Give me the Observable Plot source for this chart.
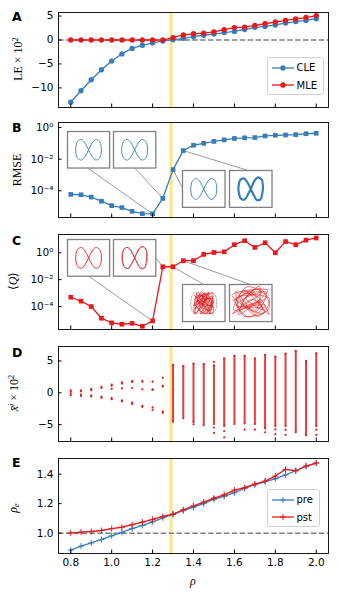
<!DOCTYPE html>
<html><head><meta charset="utf-8">
<script src="https://cdn.jsdelivr.net/npm/d3@7"></script>
<script src="https://cdn.jsdelivr.net/npm/@observablehq/plot@0.6"></script>
<style>
body{margin:0;background:#fff;}
#fig{position:relative;width:339px;height:603px;font-family:"DejaVu Sans",sans-serif;color:#000;overflow:hidden;}
.plabel{position:absolute;font-weight:bold;font-size:12.5px;line-height:12.5px;}
.ylab{position:absolute;font-family:"Liberation Serif",serif;font-size:12px;line-height:12px;transform:translate(-50%,-50%) rotate(-90deg);white-space:nowrap;}
.ylab sup{font-size:0.7em;vertical-align:0.45em;line-height:0;}
.ylab sub{font-size:0.7em;vertical-align:-0.25em;line-height:0;}
.legend{position:absolute;box-sizing:border-box;border:1px solid #d0d0d0;border-radius:3px;background:rgba(255,255,255,0.85);font-size:10px;}
</style></head>
<body><div id="fig"></div>
<script>
// ---------------- data ----------------
const rho = [0.80,0.85,0.90,0.95,1.00,1.05,1.10,1.15,1.20,1.25,1.30,1.35,1.40,1.45,1.50,1.55,1.60,1.65,1.70,1.75,1.80,1.85,1.90,1.95,2.00];
const cle = [-13.0,-10.6,-8.3,-6.2,-4.4,-2.9,-1.75,-1.1,-0.6,-0.2,0.05,0.35,0.7,1.0,1.25,1.55,1.8,2.2,2.65,2.85,3.15,3.55,3.85,4.1,4.45];
const mle = [0,0,0,0,0,0,0,0,0,0,0.5,1.05,1.3,1.45,1.7,2.15,2.6,2.7,3.05,3.4,3.75,4.1,4.4,4.7,5.1];
const rmse = [5.9e-5,5.6e-5,4.0e-5,2.2e-5,1.15e-5,8.7e-6,5.0e-6,3.6e-6,3.5e-6,3.3e-5,2.2e-3,3.5e-2,7.6e-2,0.10,0.133,0.166,0.204,0.224,0.234,0.295,0.324,0.339,0.355,0.407,0.437];
const qmean = [4.9e-4,2.5e-4,1.0e-4,1.35e-5,6.0e-6,4.8e-6,5.6e-6,3.4e-6,8.5e-6,0.091,0.091,0.257,0.257,0.76,1.05,1.17,4.0,7.9,2.5,5.6,1.0,6.8,4.0,8.7,12.6];
const pre = [0.885,0.912,0.934,0.957,0.982,1.005,1.03,1.052,1.077,1.104,1.127,1.152,1.176,1.2,1.23,1.249,1.274,1.303,1.328,1.35,1.368,1.395,1.423,1.452,1.475];
const pst = [1.002,1.007,1.011,1.018,1.03,1.04,1.057,1.075,1.093,1.113,1.129,1.158,1.185,1.21,1.238,1.26,1.292,1.308,1.333,1.353,1.387,1.432,1.423,1.455,1.475];
// panel D: discrete states (rho < 1.3)
const discRho = [0.80,0.85,0.90,0.95,1.00,1.05,1.10,1.15,1.20,1.25];
const discVals = [[0.4,0.15,-0.15,-0.4],[0.4,0.2,-0.3,-0.5],[0.6,0.4,-0.4,-0.6],[0.95,0.75,-0.6,-0.8],[1.3,1.1,0.6,-0.85,-1.0],[1.65,1.45,0.7,-1.2,-1.35],[1.85,1.7,0.75,-1.55,-1.75],[1.85,1.75,0.55,-2.05,-2.2],[1.75,0.55,0.45,-2.3,-2.7],[2.35,1.1,1.0,-2.95,-3.15]];
// panel D: dense columns (rho >= 1.3)
const stripRho = [1.30,1.35,1.40,1.45,1.50,1.55,1.60,1.65,1.70,1.75,1.80,1.85,1.90,1.95,2.00];
const stripHi = [4.4,4.2,4.6,4.5,4.3,5.4,5.8,5.8,5.4,5.96,5.7,6.17,6.6,5.0,6.2];
const stripLo = [-4.55,-4.0,-4.4,-5.1,-4.9,-5.2,-4.9,-4.8,-4.9,-5.6,-5.2,-5.2,-5.97,-6.65,-5.2];
const outRho = [1.40,1.40,1.50,1.50,1.50,1.55,1.55,1.65,1.70,1.75,1.80,1.80,1.85,1.85,1.90,2.00,2.00];
const outVal = [-4.6,-4.95,4.85,-5.45,-6.3,-6.0,-7.0,-5.8,-5.8,-6.2,-5.75,-6.5,-5.8,-6.6,-6.2,-5.8,-6.6];
const band = [1.285, 1.30];
const xTicks = [0.8,1.0,1.2,1.4,1.6,1.8,2.0];
// inset curves (normalised)
const fig8 = [[0,0],[0.3,0.6],[0.6,0.9],[0.9,0.75],[1.05,0.3],[1.05,-0.3],[0.9,-0.75],[0.6,-0.9],[0.3,-0.6],[0,0],[-0.3,0.6],[-0.6,0.9],[-0.9,0.75],[-1.05,0.3],[-1.05,-0.3],[-0.9,-0.75],[-0.6,-0.9],[-0.3,-0.6]];
const fig8b = [[0,0],[0.3,0.7],[0.6,1.0],[0.9,0.8],[1.0,0.3],[0.95,-0.4],[0.8,-0.9],[0.5,-0.95],[0.25,-0.55],[0,0],[-0.28,0.58],[-0.55,0.9],[-0.85,0.8],[-1.0,0.3],[-0.98,-0.35],[-0.8,-0.85],[-0.5,-0.92],[-0.25,-0.5]];
const scribbleA = [[-0.6,0.8],[0.5,-0.7],[0.7,0.9],[-0.7,-0.9],[-0.2,0.95],[0.6,-0.2],[-0.75,0.3],[0.3,0.7],[0.75,-0.85],[-0.4,-0.6],[0.1,0.9],[-0.8,-0.2],[0.55,0.4],[-0.3,-0.95],[0.8,0.1],[-0.6,0.6],[0.2,-0.8],[0.7,0.6],[-0.7,-0.5],[0.4,0.95],[-0.1,-0.4],[0.65,-0.6],[-0.5,0.9],[-0.75,-0.95],[0.3,0.2],[0.8,-0.4],[-0.35,0.5],[0.5,0.85],[-0.65,-0.1],[0.15,-0.95],[0.75,0.35],[-0.55,0.15],[0.35,-0.35],[-0.2,0.75],[0.6,-0.95],[-0.8,0.7]];
const scribbleB = [[-1.5,0.2],[0.8,1.2],[1.5,-0.5],[-0.6,-1.1],[-1.2,1.0],[0.3,-0.8],[1.3,0.9],[-0.9,0.5],[0.6,-1.15],[1.55,0.3],[-0.3,1.4],[-1.4,-0.6],[0.9,0.1],[-0.5,-0.3],[1.1,-0.9],[0.0,0.9],[-1.0,-1.0],[1.4,1.1],[-1.55,0.7],[0.4,-0.6],[0.7,1.45],[-0.8,-0.2],[1.2,-0.2],[-0.2,-1.2],[-1.3,0.3],[0.5,0.6],[1.5,-1.0],[-0.6,1.1],[-1.1,-0.4],[0.2,0.3],[1.0,-0.6],[-0.4,0.4],[0.9,0.9],[-1.5,-0.9],[0.1,-0.1],[1.3,0.5],[-0.7,0.9],[0.3,1.0],[-1.2,-0.2],[0.8,-0.4]];

// ---------------- layout ----------------
const blue = "#377eb8", red = "#e41a1c", bandColor = "#ffe680";
const W = 339, ML = 58, MR = 11, FH = 95;
const fig = document.getElementById("fig");
const supMap = {"-":"⁻","0":"⁰","1":"¹","2":"²","3":"³","4":"⁴","5":"⁵","6":"⁶","7":"⁷","8":"⁸","9":"⁹"};
const logFmt = d => "10" + String(Math.round(Math.log10(d))).split("").map(c => supMap[c]).join("");

function panel(top, y, yTicks, yFmt, marks, xLabels) {
  const mt = 8, mb = xLabels ? 22 : 8;
  const chart = Plot.plot({
    width: W, height: mt + FH + mb,
    marginLeft: ML, marginRight: MR, marginTop: mt, marginBottom: mb,
    style: {fontFamily: "DejaVu Sans", fontSize: "10.5px", background: "transparent", overflow: "visible", color: "#000"},
    x: {domain: [0.74, 2.06], label: null},
    y: {...y, label: null},
    marks: [
      Plot.rect([band], {x1: d => d[0], x2: d => d[1], fill: bandColor}),
      ...marks,
      Plot.axisY({ticks: yTicks, tickFormat: yFmt, tickSize: 0, tickPadding: 5, label: null}),
      Plot.axisY({ticks: yTicks, tickFormat: () => "", tickSize: 3.5, dx: 3.5, label: null}),
      Plot.axisX({ticks: xTicks, tickFormat: () => "", tickSize: 3.5, dy: -3.5, label: null}),
      ...(xLabels ? [Plot.axisX({ticks: xTicks, tickFormat: d3.format(".1f"), tickSize: 0, tickPadding: 5, label: null})] : []),
      Plot.frame({stroke: "#000", strokeWidth: 0.9})
    ]
  });
  chart.style.position = "absolute";
  chart.style.left = "0px";
  chart.style.top = (top - mt) + "px";
  fig.append(chart);
  return {chart, off: top - mt};
}

function inset(p, box, layers) {
  const xs = p.chart.scale("x"), ys = p.chart.scale("y");
  const left = xs.apply(box.x1), right = xs.apply(box.x2);
  const t = ys.apply(box.y2), b = ys.apply(box.y1);
  const svg = Plot.plot({
    width: right - left, height: b - t, margin: 0,
    x: {domain: [-1.75, 1.75], axis: null}, y: {domain: [-1.6, 1.6], axis: null},
    style: {background: "#fff", overflow: "visible"},
    marks: [...layers, Plot.frame({stroke: "#808080", strokeWidth: 1.3})]
  });
  svg.style.position = "absolute";
  svg.style.left = left + "px";
  svg.style.top = (p.off + t) + "px";
  fig.append(svg);
}
const curve = (pts, o) => Plot.line(pts, {x: d => d[0], y: d => d[1], ...o});

function legend(x, y, w, h, items, marker) {
  const d = document.createElement("div"); d.className = "legend";
  Object.assign(d.style, {left: x + "px", top: y + "px", width: w + "px", height: h + "px"});
  items.forEach((it, i) => {
    const row = document.createElement("div");
    Object.assign(row.style, {position: "absolute", left: "3px", top: (2.7 + i * 17.3) + "px", height: "14px", display: "flex", alignItems: "center"});
    const s = document.createElementNS("http://www.w3.org/2000/svg", "svg");
    s.setAttribute("width", 24); s.setAttribute("height", 14);
    s.innerHTML = `<line x1="1" y1="7" x2="23" y2="7" stroke="${it.color}" stroke-width="1.3"/>` +
      (marker === "circle" ? `<circle cx="12" cy="7" r="2.7" fill="${it.color}"/>` : `<path d="M12,4V10M9,7H15" stroke="${it.color}" stroke-width="1"/>`);
    const t = document.createElement("span"); t.textContent = it.label; t.style.marginLeft = "2px";
    row.append(s, t); d.append(row);
  });
  fig.append(d);
}
function label(cls, x, y, html) {
  const d = document.createElement("div"); d.className = cls; d.innerHTML = html;
  d.style.left = x + "px"; d.style.top = y + "px"; fig.append(d);
}

const tab = rho.map((r, i) => ({rho: r, cle: cle[i], mle: mle[i], rmse: rmse[i], q: qmean[i], pre: pre[i], pst: pst[i]}));
const dash = {stroke: "#808080", strokeWidth: 1.5, strokeDasharray: "5.5,2.4"};

// A
panel(11.5, {domain: [-14.1, 5.75]}, [-10, -5, 0, 5], d3.format("d"), [
  Plot.ruleY([0], dash),
  Plot.line(tab, {x: "rho", y: "cle", stroke: blue, strokeWidth: 1.3}),
  Plot.dot(tab, {x: "rho", y: "cle", r: 2.7, fill: blue}),
  Plot.line(tab, {x: "rho", y: "mle", stroke: red, strokeWidth: 1.3}),
  Plot.dot(tab, {x: "rho", y: "mle", r: 2.7, fill: red})
]);

// B
const boxesB = [
  {x1: 0.784, x2: 0.990, y1: 10 ** -2.546, y2: 10 ** -0.234},
  {x1: 1.011, x2: 1.218, y1: 10 ** -2.546, y2: 10 ** -0.234},
  {x1: 1.345, x2: 1.553, y1: 10 ** -5.07, y2: 10 ** -2.735},
  {x1: 1.574, x2: 1.782, y1: 10 ** -5.07, y2: 10 ** -2.735}
];
const linksB = [
  {i: 8, ax: 0.881, ay: 10 ** -2.546}, {i: 9, ax: 1.112, ay: 10 ** -2.546},
  {i: 10, ax: 1.345, ay: 10 ** -3.79}, {i: 11, ax: 1.673, ay: 10 ** -2.735}
].map(l => ({...l, x: rho[l.i], y: rmse[l.i]}));
const pB = panel(122, {type: "log", domain: [10 ** -5.69, 10 ** 0.32]}, [1e-4, 1e-2, 1], logFmt, [
  Plot.link(linksB, {x1: "x", y1: "y", x2: "ax", y2: "ay", stroke: "#555", strokeWidth: 0.6}),
  Plot.line(tab, {x: "rho", y: "rmse", stroke: blue, strokeWidth: 1.3}),
  Plot.dot(tab, {x: "rho", y: "rmse", r: 2.65, symbol: "square", fill: blue})
]);
inset(pB, boxesB[0], [curve(fig8, {stroke: blue, strokeWidth: 0.9, curve: "catmull-rom-closed"})]);
inset(pB, boxesB[1], [curve(fig8, {stroke: blue, strokeWidth: 0.9, curve: "catmull-rom-closed"})]);
inset(pB, boxesB[2], [curve(fig8, {stroke: blue, strokeWidth: 0.9, curve: "catmull-rom-closed"})]);
inset(pB, boxesB[3], [curve(fig8b, {stroke: blue, strokeWidth: 2.2, curve: "catmull-rom-closed"})]);

// C
const boxesC = [
  {x1: 0.784, x2: 0.990, y1: 10 ** -1.765, y2: 10 ** 0.968},
  {x1: 1.011, x2: 1.218, y1: 10 ** -1.765, y2: 10 ** 0.968},
  {x1: 1.345, x2: 1.553, y1: 10 ** -5.12, y2: 10 ** -2.36},
  {x1: 1.574, x2: 1.782, y1: 10 ** -5.12, y2: 10 ** -2.36}
];
const linksC = [
  {i: 8, ax: 0.889, ay: 10 ** -1.765}, {i: 9, ax: 1.218, ay: 10 ** -0.42},
  {i: 10, ax: 1.45, ay: 10 ** -2.36}, {i: 11, ax: 1.678, ay: 10 ** -2.36}
].map(l => ({...l, x: rho[l.i], y: qmean[l.i]}));
const pC = panel(234, {type: "log", domain: [10 ** -5.71, 10 ** 1.36]}, [1e-4, 1e-2, 1], logFmt, [
  Plot.link(linksC, {x1: "x", y1: "y", x2: "ax", y2: "ay", stroke: "#555", strokeWidth: 0.6}),
  Plot.line(tab, {x: "rho", y: "q", stroke: red, strokeWidth: 1.3}),
  Plot.dot(tab, {x: "rho", y: "q", r: 2.65, symbol: "square", fill: red})
]);
const gdash = {stroke: "#999", strokeWidth: 0.9, strokeDasharray: "2,1.5", curve: "catmull-rom-closed"};
inset(pC, boxesC[0], [curve(fig8, {stroke: red, strokeWidth: 0.9, curve: "catmull-rom-closed"})]);
inset(pC, boxesC[1], [curve(fig8, gdash), curve(fig8b, {stroke: red, strokeWidth: 0.9, curve: "catmull-rom-closed"})]);
inset(pC, boxesC[2], [curve(fig8, gdash), curve(scribbleA, {stroke: red, strokeWidth: 0.7, curve: "catmull-rom"})]);
inset(pC, boxesC[3], [curve(scribbleB, {stroke: red, strokeWidth: 0.6, curve: "catmull-rom"})]);

// D
const discTab = discRho.flatMap((r, i) => discVals[i].map(v => ({rho: r, v})));
const stripTab = stripRho.map((r, i) => ({rho: r, lo: stripLo[i], hi: stripHi[i]}));
const outTab = outRho.map((r, i) => ({rho: r, v: outVal[i]}));
panel(346, {domain: [-7.65, 7.27]}, [-5, 0, 5], d3.format("d"), [
  Plot.ruleX(stripTab, {x: "rho", y1: "lo", y2: "hi", stroke: red, strokeWidth: 2, strokeOpacity: 0.85}),
  Plot.dot(stripTab, {x: "rho", y: "lo", r: 1.1, fill: red}),
  Plot.dot(stripTab, {x: "rho", y: "hi", r: 1.1, fill: red}),
  Plot.dot(outTab, {x: "rho", y: "v", r: 1.1, fill: red}),
  Plot.dot(discTab, {x: "rho", y: "v", r: 1.1, fill: red})
]);

// E
panel(458, {domain: [0.862, 1.506]}, [1.0, 1.2, 1.4], d3.format(".1f"), [
  Plot.ruleY([1], dash),
  Plot.line(tab, {x: "rho", y: "pre", stroke: blue, strokeWidth: 1.3}),
  Plot.dot(tab, {x: "rho", y: "pre", symbol: "plus", r: 2.1, stroke: blue, strokeWidth: 1}),
  Plot.line(tab, {x: "rho", y: "pst", stroke: red, strokeWidth: 1.3}),
  Plot.dot(tab, {x: "rho", y: "pst", symbol: "plus", r: 2.1, stroke: red, strokeWidth: 1})
], true);

// legends
legend(266.5, 57, 57, 38, [{label: "CLE", color: blue}, {label: "MLE", color: red}], "circle");
legend(266.5, 489, 53, 38, [{label: "pre", color: blue}, {label: "pst", color: red}], "plus");

// panel letters
[["A", 10.5], ["B", 121.5], ["C", 235], ["D", 347], ["E", 457]].forEach(([t, y]) => label("plabel", 12, y, t));

// axis titles
label("ylab", 18, 59, "LE × 10<sup>2</sup>");
label("ylab", 16.5, 169.5, "RMSE");
label("ylab", 13, 281, "⟨<i>Q</i>⟩");
label("ylab", 14, 393, "<i>x&#772;</i><sup><i>i</i></sup> × 10<sup>2</sup>");
label("ylab", 13, 508, "<i>ρ</i><sub><i>e</i></sub>");
const xl = document.createElement("div");
xl.innerHTML = "<i>ρ</i>";
Object.assign(xl.style, {position: "absolute", left: "193px", top: "581px", transform: "translate(-50%,-50%)", fontFamily: "Liberation Serif, serif", fontSize: "12px"});
fig.append(xl);
</script>
</body></html>
